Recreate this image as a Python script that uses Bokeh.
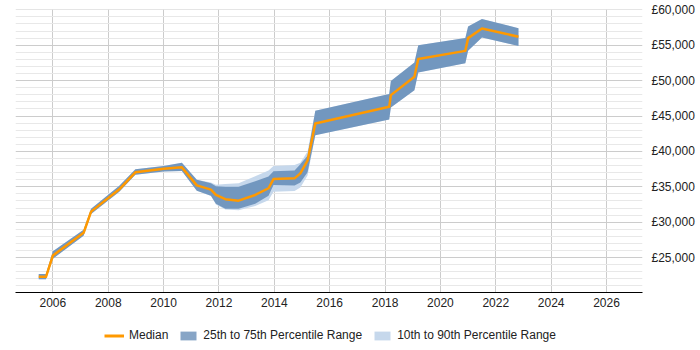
from bokeh.plotting import figure
from bokeh.layouts import column
from bokeh.models import (ColumnDataSource, FixedTicker, Legend, LegendItem,
                          CustomJSTickFormatter, Range1d)
from bokeh.embed import file_html
from bokeh.resources import INLINE

# Salary percentiles over time (GBP)
years = [2005.49, 2005.75, 2006.0, 2007.11, 2007.38, 2008.4, 2008.98, 2010.0,
         2010.66, 2011.2, 2011.71, 2011.89, 2012.23, 2012.71, 2013.31, 2013.79,
         2013.97, 2014.73, 2014.94, 2015.2, 2015.48, 2018.15, 2018.21, 2019.06,
         2019.2, 2020.9, 2021.0, 2021.5, 2022.82]
median = [22300, 22300, 25300, 28500, 31500, 34650, 37050, 37550,
          37750, 35200, 34600, 33850, 33250, 33050, 33850, 34800,
          36100, 36200, 36900, 38700, 43950, 46300, 47950, 50550,
          53050, 54200, 56000, 57350, 56200]
p25 = [21950, 21950, 24850, 28100, 31150, 34300, 36700, 37150,
       37250, 34450, 33750, 32600, 31900, 31900, 32600, 33750,
       35250, 35200, 35600, 37050, 42300, 44500, 46200, 48650,
       51150, 52450, 54200, 56100, 54900]
p75 = [22700, 22700, 25900, 28950, 31900, 35150, 37500, 37950,
       38400, 36000, 35500, 35100, 35000, 35000, 35800, 36450,
       37200, 37300, 38200, 39400, 45750, 48100, 49950, 52550,
       55000, 56000, 57650, 58700, 57400]
p10 = [21950, 21950, 24850, 28100, 31150, 34300, 36700, 37150,
       37250, 34450, 33700, 32500, 31800, 31700, 32300, 33100,
       34300, 34400, 34900, 36600, 42300, 44500, 46200, 48650,
       51150, 52450, 54200, 56100, 54900]
p90 = [22700, 22700, 25900, 28950, 31900, 35150, 37500, 37950,
       38400, 36000, 35600, 35300, 35400, 35500, 36500, 37300,
       37950, 38100, 38400, 40000, 45750, 48100, 49950, 52550,
       55000, 56000, 57650, 58700, 57400]

x_ticks = list(range(2006, 2027, 2))
y_ticks = list(range(25000, 60001, 5000))
y_minor_ticks = [v for v in range(21000, 60000, 1000) if v % 5000 != 0]

FONT = "Liberation Sans"
TEXT = "#222222"
MEDIAN_COLOR = "#ff9900"
IQR_COLOR, IQR_ALPHA = "#4171a5", 0.63
DECILE_COLOR = "#c6d8ec"

src = ColumnDataSource(dict(year=years, median=median, p10=p10, p25=p25,
                            p75=p75, p90=p90))

# ---- main chart ----
p = figure(width=700, height=320,
           x_range=Range1d(2004.65, 2027.3), y_range=Range1d(20080, 60040),
           output_backend="svg", toolbar_location=None,
           y_axis_location="right",
           min_border_left=15, min_border_right=58,
           min_border_top=9, min_border_bottom=28)
p.outline_line_color = None
p.background_fill_color = "white"
p.border_fill_color = "white"

p.varea(x="year", y1="p10", y2="p90", source=src,
        fill_color=DECILE_COLOR, fill_alpha=1.0)
p.varea(x="year", y1="p25", y2="p75", source=src,
        fill_color=IQR_COLOR, fill_alpha=IQR_ALPHA)
p.line(x="year", y="median", source=src, line_color=MEDIAN_COLOR,
       line_width=2.5, line_join="round")

xa = p.xaxis[0]
xa.ticker = FixedTicker(ticks=x_ticks)
xa.axis_line_color = "black"
xa.axis_line_width = 1
xa.major_tick_line_color = None
xa.minor_tick_line_color = None
xa.major_tick_out = 0
xa.major_tick_in = 0
xa.minor_tick_out = 0
xa.major_label_text_font = FONT
xa.major_label_text_font_size = "12px"
xa.major_label_text_color = TEXT
xa.major_label_standoff = 5

ya = p.yaxis[0]
ya.ticker = FixedTicker(ticks=y_ticks, minor_ticks=y_minor_ticks)
ya.formatter = CustomJSTickFormatter(code="""
    const s = Math.round(tick).toString().replace(/\\B(?=(\\d{3})+(?!\\d))/g, ",");
    return "\\u00a3" + s;
""")
ya.axis_line_color = None
ya.major_tick_line_color = None
ya.minor_tick_line_color = None
ya.major_tick_out = 0
ya.major_tick_in = 0
ya.minor_tick_out = 0
ya.major_label_text_font = FONT
ya.major_label_text_font_size = "12px"
ya.major_label_text_color = TEXT
ya.major_label_standoff = 9

p.xgrid.grid_line_color = "#cccccc"
p.ygrid.grid_line_color = "#cccccc"
p.ygrid.minor_grid_line_color = "#e8e8e8"

# ---- legend strip under the chart ----
# The strip's own ranges keep these series out of view; they only feed the
# legend swatches with the same styling as the chart above.
lg = figure(width=700, height=30, x_range=Range1d(0, 1), y_range=Range1d(0, 1),
            output_backend="svg", toolbar_location=None,
            x_axis_location=None, y_axis_location=None,
            min_border_left=0, min_border_right=0,
            min_border_top=0, min_border_bottom=0)
lg.outline_line_color = None
lg.grid.visible = False
lg.background_fill_color = "white"
lg.border_fill_color = "white"

r_med = lg.line(x="year", y="median", source=src, line_color=MEDIAN_COLOR,
                line_width=3)
r_iqr = lg.varea(x="year", y1="p25", y2="p75", source=src,
                 fill_color=IQR_COLOR, fill_alpha=IQR_ALPHA)
r_dec = lg.varea(x="year", y1="p10", y2="p90", source=src,
                 fill_color=DECILE_COLOR, fill_alpha=1.0)

legend = Legend(items=[
    LegendItem(label="Median", renderers=[r_med]),
    LegendItem(label="25th to 75th Percentile Range", renderers=[r_iqr]),
    LegendItem(label="10th to 90th Percentile Range", renderers=[r_dec]),
], orientation="horizontal", location=(89, 8),
    border_line_color=None, background_fill_alpha=0,
    label_text_font=FONT, label_text_font_size="12px",
    label_text_color=TEXT, label_height=14,
    glyph_width=20, glyph_height=11, label_standoff=5, spacing=10,
    padding=0, margin=0)
lg.add_layout(legend)

layout = column(p, lg, spacing=0)
open("out.html", "w").write(file_html(layout, INLINE))
